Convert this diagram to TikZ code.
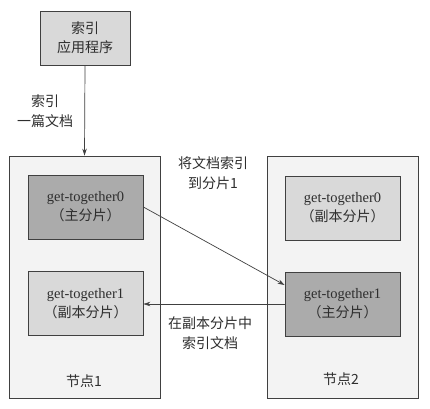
\documentclass[tikz,border=0pt]{standalone}
\usepackage{fontspec}
\setmainfont{Liberation Serif}
\newfontfamily\cjk{Noto Sans CJK SC}
\usetikzlibrary{arrows.meta}
\definecolor{lineC}{HTML}{404040}
\definecolor{txtC}{HTML}{2E2E2E}
\definecolor{nodeF}{HTML}{F3F3F3}
\definecolor{lightF}{HTML}{D9D9D9}
\definecolor{darkF}{HTML}{ABABAB}
\tikzset{
  base/.style={draw=lineC, line width=0.8pt, text=txtC, align=center, inner sep=0pt,
    font=\fontsize{14.5}{19}\selectfont},
  appbox/.style={base, fill=lightF, minimum width=90pt, minimum height=54pt},
  nodebox/.style={base, fill=nodeF, minimum width=151pt, minimum height=242pt},
  repbox/.style={base, fill=lightF, minimum width=115pt, minimum height=64pt},
  pribox/.style={base, fill=darkF, minimum width=115pt, minimum height=64pt},
  lbl/.style={text=txtC, align=center, inner sep=0pt, font=\fontsize{14}{20}\selectfont\cjk},
  arr/.style={draw=lineC, line width=0.7pt, -{Stealth[length=7pt,width=4.5pt]}}
}
\begin{document}
\begin{tikzpicture}[x=1pt,y=-1pt]
\useasboundingbox[fill=white] (0,0) rectangle (430,408);
\node[appbox] (app) at (85,38) {\cjk\fontsize{14}{20}\selectfont 索引\\ \cjk\fontsize{14}{20}\selectfont 应用程序};
\node[nodebox] (n1) at (84.5,277) {};
\node[nodebox] (n2) at (342.5,277) {};
\node[pribox] (p0) at (85.5,207) {get-together0\\ \cjk\fontsize{14}{19}\selectfont （主分片）};
\node[repbox] (r1) at (85.5,303.5) {get-together1\\ \cjk\fontsize{14}{19}\selectfont （副本分片）};
\node[repbox] (r0) at (342.5,208) {get-together0\\ \cjk\fontsize{14}{19}\selectfont （副本分片）};
\node[pribox] (p1) at (342.5,304) {get-together1\\ \cjk\fontsize{14}{19}\selectfont （主分片）};
\node[lbl] (t1) at (84,381) {节点1};
\node[lbl] (t2) at (341,379) {节点2};
\node[lbl] (l1) at (45,111) {索引\\一篇文档};
\node[lbl] (l2) at (213,173) {将文档索引\\到分片1};
\node[lbl] (l3) at (210,333) {在副本分片中\\索引文档};
\draw[arr] (app.south) -- (n1.north);
\draw[arr] (p0.east) -- ([yshift=19pt]p1.west);
\draw[arr] (p1.west) -- (p1.west -| r1.east);
\end{tikzpicture}
\end{document}
